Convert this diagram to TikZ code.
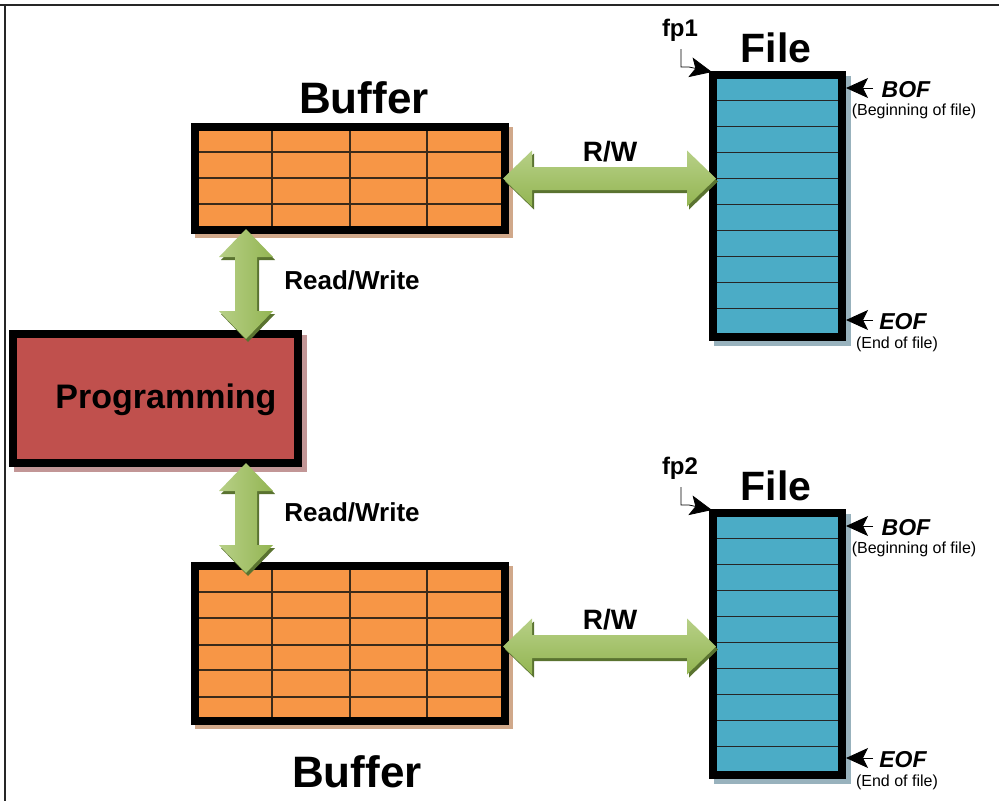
\documentclass[tikz,border=0pt]{standalone}
\usepackage{fontspec}
\setmainfont{Liberation Sans}
\usetikzlibrary{calc,arrows.meta}
\definecolor{bufor}{HTML}{F79646}
\definecolor{bufsh}{HTML}{D0A88A}
\definecolor{progred}{HTML}{C0504D}
\definecolor{progsh}{HTML}{C29696}
\definecolor{filebl}{HTML}{4BACC6}
\definecolor{filesh}{HTML}{98B2BD}
\definecolor{grmid}{HTML}{93B552}
\definecolor{grlight}{HTML}{B7D087}
\definecolor{grdark}{HTML}{5A7330}
\definecolor{gridln}{HTML}{3A2A1A}
\newcommand{\fs}[1]{\fontsize{#1}{#1}\selectfont}
% horizontal double block arrow: #1 style, #2 left tip, #3 right tip
\newcommand{\hdbl}[3]{%
  \path[#1] (#2) -- ($(#2)+(29,-28)$) -- ($(#2)+(29,-11.5)$) -- ($(#3)+(-29,-11.5)$)
    -- ($(#3)+(-29,-28)$) -- (#3) -- ($(#3)+(-29,28)$) -- ($(#3)+(-29,11.5)$)
    -- ($(#2)+(29,11.5)$) -- ($(#2)+(29,28)$) -- cycle;}
% vertical double block arrow: #1 style, #2 top tip, #3 bottom tip
\newcommand{\vdbl}[3]{%
  \path[#1] (#2) -- ($(#2)+(27,28)$) -- ($(#2)+(11,28)$) -- ($(#3)+(11,-28)$)
    -- ($(#3)+(27,-28)$) -- (#3) -- ($(#3)+(-27,-28)$) -- ($(#3)+(-11,-28)$)
    -- ($(#2)+(-11,28)$) -- ($(#2)+(-27,28)$) -- cycle;}
\begin{document}
\begin{tikzpicture}[x=1pt,y=-1pt,
  boxnode/.style={rectangle, inner sep=0pt, outer sep=0pt},
  bufnode/.style={boxnode, fill=bufor},
  filenode/.style={boxnode, fill=filebl},
  prognode/.style={boxnode, fill=progred},
  thickborder/.style={draw=black, line width=8pt},
  gridline/.style={draw=gridln, line width=1.1pt},
  fileline/.style={draw=black!85, line width=1pt},
  lbl/.style={inner sep=0pt, font=\bfseries},
  ptrhead/.tip={Stealth[length=22pt,width=20pt,inset=5pt]},
  ptr/.style={draw=black, line width=1pt, -ptrhead},
  grshadow/.style={fill=grdark},
  grfillh/.style={top color=grlight, bottom color=grmid},
  grfillv/.style={left color=grlight, right color=grmid}
]
\useasboundingbox (0,0) rectangle (999,801);
\fill[white] (0,0) rectangle (999,801);
% frame
\draw[line width=2pt, black!85] (0,5) -- (999,5);
\draw[line width=2pt, black!85] (5,5) -- (5,801);

% ---------- boxes ----------
\node[bufnode, minimum width=318pt, minimum height=111pt] (buf1) at (350,178.5) {};
\node[bufnode, minimum width=318pt, minimum height=163pt] (buf2) at (350,643.5) {};
\node[prognode, minimum width=293pt, minimum height=137pt] (prog) at (155.5,398.5) {};
\node[filenode, minimum width=137pt, minimum height=270pt] (file1) at (777.5,206) {};
\node[filenode, minimum width=137pt, minimum height=270pt] (file2) at (777.5,644) {};

% shadows
\fill[bufsh] ([shift={(4,4)}]buf1.north west) rectangle ([shift={(4,4)}]buf1.south east);
\fill[bufsh] ([shift={(4,4)}]buf2.north west) rectangle ([shift={(4,4)}]buf2.south east);
\fill[progsh] ([shift={(5,5)}]prog.north west) rectangle ([shift={(5,5)}]prog.south east);
\fill[filesh] ([shift={(5,5)}]file1.north west) rectangle ([shift={(5,5)}]file1.south east);
\fill[filesh] ([shift={(5,5)}]file2.north west) rectangle ([shift={(5,5)}]file2.south east);
% refill boxes on top of shadows
\fill[bufor] (buf1.north west) rectangle (buf1.south east);
\fill[bufor] (buf2.north west) rectangle (buf2.south east);
\fill[progred] (prog.north west) rectangle (prog.south east);
\fill[filebl] (file1.north west) rectangle (file1.south east);
\fill[filebl] (file2.north west) rectangle (file2.south east);

% grids
\foreach \x in {272,350,427} {
  \draw[gridline] (\x,128) -- (\x,229);
  \draw[gridline] (\x,567) -- (\x,720);
}
\foreach \y in {152,178,204} \draw[gridline] (196,\y) -- (504,\y);
\foreach \y in {592,618,645,670,697} \draw[gridline] (196,\y) -- (504,\y);
\foreach \y in {100,126,152,178,204,230,256,282,308} {
  \draw[fileline] (715,\y) -- (840,\y);
  \draw[fileline] (715,\y+438) -- (840,\y+438);
}

% borders
\draw[thickborder] ([shift={(4,4)}]buf1.north west) rectangle ([shift={(-4,-4)}]buf1.south east);
\draw[thickborder] ([shift={(4,4)}]buf2.north west) rectangle ([shift={(-4,-4)}]buf2.south east);
\draw[thickborder] ([shift={(4,4)}]prog.north west) rectangle ([shift={(-4,-4)}]prog.south east);
\draw[thickborder] ([shift={(4,4)}]file1.north west) rectangle ([shift={(-4,-4)}]file1.south east);
\draw[thickborder] ([shift={(4,4)}]file2.north west) rectangle ([shift={(-4,-4)}]file2.south east);

% ---------- block arrows ----------
\coordinate (rw1l) at ($(buf1.east)+(-6,0)$);
\coordinate (rw1r) at ($(buf1.east -| file1.west)+(7,0)$);
\coordinate (rw2l) at ($(buf2.east)+(-6,3)$);
\coordinate (rw2r) at ($(buf2.east -| file2.west)+(7,3)$);
\coordinate (rw3t) at ($(buf1.south west)+(55,-5)$);
\coordinate (rw3b) at ($(prog.north west)+(237,9)$);
\coordinate (rw4t) at ($(prog.south west)+(237,-4)$);
\coordinate (rw4b) at ($(buf2.north west)+(55,11)$);

\begin{scope}[transform canvas={xshift=2pt,yshift=-3pt}]
  \hdbl{grshadow}{rw1l}{rw1r}
  \hdbl{grshadow}{rw2l}{rw2r}
  \vdbl{grshadow}{rw3t}{rw3b}
  \vdbl{grshadow}{rw4t}{rw4b}
\end{scope}
\hdbl{grfillh}{rw1l}{rw1r}
\hdbl{grfillh}{rw2l}{rw2r}
\vdbl{grfillv}{rw3t}{rw3b}
\vdbl{grfillv}{rw4t}{rw4b}

% ---------- labels ----------
\node[lbl, font=\bfseries\fs{44}, anchor=base] (buftitle1) at (364,113) {Buffer};
\node[lbl, font=\bfseries\fs{44}, anchor=base] (buftitle2) at (357,787) {Buffer};
\node[lbl, font=\bfseries\fs{41}, anchor=base] (filetitle1) at (776,62) {File};
\node[lbl, font=\bfseries\fs{41}, anchor=base] (filetitle2) at (776,500) {File};
\node[lbl, font=\bfseries\fs{34}, anchor=base] (progtext) at (166,408) {Programming};
\node[lbl, font=\bfseries\fs{28}, anchor=base] (rwlab1) at (610,161) {R/W};
\node[lbl, font=\bfseries\fs{28}, anchor=base] (rwlab2) at (610,629) {R/W};
\node[lbl, font=\bfseries\fs{26}, anchor=base] (rwlab3) at (352,289) {Read/Write};
\node[lbl, font=\bfseries\fs{26}, anchor=base] (rwlab4) at (352,521) {Read/Write};
\node[lbl, font=\bfseries\fs{24}, anchor=base] (fp1) at (680,36) {fp1};
\node[lbl, font=\bfseries\fs{24}, anchor=base] (fp2) at (680,474) {fp2};

\node[lbl, font=\bfseries\itshape\fs{23}, anchor=base] (bof1) at (906,97) {BOF};
\node[lbl, font=\fs{16}] (bofsub1) at (914,111) {(Beginning of file)};
\node[lbl, font=\bfseries\itshape\fs{23}, anchor=base] (eof1) at (903,329) {EOF};
\node[lbl, font=\fs{16}] (eofsub1) at (897,344) {(End of file)};
\node[lbl, font=\bfseries\itshape\fs{23}, anchor=base] (bof2) at (906,535) {BOF};
\node[lbl, font=\fs{16}] (bofsub2) at (914,549) {(Beginning of file)};
\node[lbl, font=\bfseries\itshape\fs{23}, anchor=base] (eof2) at (903,767) {EOF};
\node[lbl, font=\fs{16}] (eofsub2) at (897,782) {(End of file)};

% ---------- pointer arrows ----------
\coordinate (bofp1) at (873,88);
\coordinate (eofp1) at (873,320);
\coordinate (bofp2) at (873,526);
\coordinate (eofp2) at (873,758);
\draw[ptr] (bofp1) -- (bofp1 -| file1.east);
\draw[ptr] (eofp1) -- (eofp1 -| file1.east);
\draw[ptr] (bofp2) -- (bofp2 -| file2.east);
\draw[ptr] (eofp2) -- (eofp2 -| file2.east);

\coordinate (fp1s) at (681,49);
\coordinate (fp2s) at (681,487);
\draw[ptr, line width=0.8pt] (fp1s) |- ($(file1.north west)+(-20,-4)$) -- ($(file1.north west)+(3,1)$);
\draw[ptr, line width=0.8pt] (fp2s) |- ($(file2.north west)+(-20,-4)$) -- ($(file2.north west)+(3,1)$);
\end{tikzpicture}
\end{document}
